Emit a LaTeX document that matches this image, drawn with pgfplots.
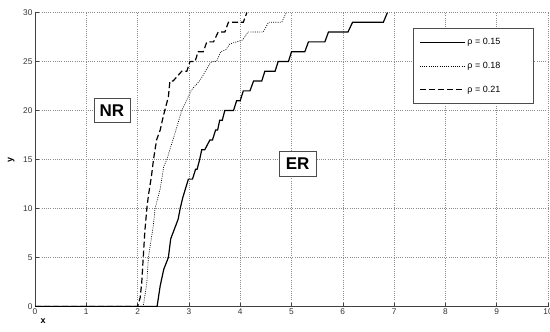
\documentclass[border=0pt]{standalone}
\usepackage{pgfplots}
\pgfplotsset{compat=1.18}
\usepackage{fontspec}
\setmainfont{Liberation Sans}
\usetikzlibrary{calc}
\begin{document}
\begin{tikzpicture}
\begin{axis}[
  scale only axis, width=513pt, height=294pt,
  xmin=0, xmax=10, ymin=0, ymax=30,
  xtick={0,1,...,10}, ytick={0,5,...,30},
  axis x line*=bottom, axis y line*=left,
  tick align=inside, major tick length=4pt,
  grid=major, grid style={black!45, line width=0.5pt, dash pattern=on 0.6pt off 1.6pt},
  axis line style={black!75, line width=0.6pt},
  tick style={black!75, line width=0.5pt},
  ticklabel style={font=\fontsize{8.3}{9}\selectfont, text=black!80},
  xticklabel style={yshift=1pt},
  yticklabel style={xshift=1pt},
  /pgf/number format/assume math mode=true,
  xlabel={\textbf{x}}, ylabel={\textbf{y}},
  xlabel style={at={(axis description cs:0.016,0)}, anchor=north, yshift=-9pt, font=\fontsize{9}{10}\selectfont},
  ylabel style={at={(axis description cs:0,0.5)}, anchor=south, yshift=17pt, font=\fontsize{9}{10}\selectfont},
  legend style={at={(0.737,0.947)}, anchor=north west, draw=black!70, fill=white,
    font=\fontsize{9}{10}\selectfont, row sep=12pt, inner xsep=6pt, inner ysep=8pt,
    cells={anchor=west}},
  legend image code/.code={\draw[#1] (0pt,0pt) -- (45pt,0pt);},
]
\addplot[black, line width=1.2pt] coordinates {
(0,0) (2.38,0) (2.44,2.1) (2.51,3.8) (2.6,5) (2.645,6.9) (2.79,8.9) (2.83,10) (2.88,11.1)
(2.99,13) (3.07,13) (3.13,14) (3.16,14) (3.21,15) (3.25,16) (3.31,16) (3.41,17) (3.46,17)
(3.52,18) (3.56,18) (3.6,19) (3.65,19) (3.70,20) (3.87,20) (3.93,21) (4.0,21) (4.06,22)
(4.19,22) (4.26,23) (4.42,23) (4.48,24) (4.68,24) (4.74,25) (4.94,25) (5.0,26) (5.26,26)
(5.33,27) (5.65,27) (5.72,28) (6.1,28) (6.19,29) (6.79,29) (6.87,30)
};
\addlegendentry{\makebox[58pt][l]{ρ = 0.15}}
\addplot[black, line width=0.7pt, dash pattern=on 0.9pt off 1.3pt] coordinates {
(0,0) (2.11,0) (2.18,2.4) (2.21,5) (2.31,8.4) (2.34,10) (2.44,12) (2.51,14.3) (2.57,15)
(2.73,17.7) (2.86,20) (3.05,22.1) (3.22,23.1) (3.41,24.8) (3.45,25) (3.54,25) (3.62,26)
(3.72,26.2) (3.8,26.8) (3.93,27) (4.05,27.2) (4.15,28) (4.45,28) (4.55,29) (4.81,29) (4.9,30)
};
\addlegendentry{\makebox[58pt][l]{ρ = 0.18}}
\addplot[black, line width=1.2pt, dash pattern=on 6pt off 3pt] coordinates {
(0,0) (2.0,0) (2.05,0.9) (2.08,2.4) (2.11,5) (2.14,7.6) (2.18,10) (2.21,11.3) (2.27,13.3)
(2.31,15) (2.37,17) (2.44,18) (2.5,19.4) (2.6,21.4) (2.63,23) (2.69,23) (2.86,24)
(2.96,24) (3.02,25) (3.12,25) (3.18,26) (3.28,26) (3.35,27) (3.48,27) (3.57,28) (3.7,28)
(3.77,29) (4.06,29) (4.13,30)
};
\addlegendentry{\makebox[58pt][l]{ρ = 0.21}}
\node[draw=black!70, fill=white, font=\bfseries\fontsize{17}{18}\selectfont,
  minimum width=36pt, minimum height=24pt, inner sep=0pt] at (axis cs:1.5,20) {NR};
\node[draw=black!70, fill=white, font=\bfseries\fontsize{17}{18}\selectfont,
  minimum width=37pt, minimum height=25pt, inner sep=0pt] at (axis cs:5.12,14.55) {ER};
\end{axis}
\pgfresetboundingbox
\path[use as bounding box] ($(current axis.south west)+(-35pt,-25.3pt)$) rectangle ($(current axis.north east)+(2pt,12.5pt)$);
\end{tikzpicture}
\end{document}
